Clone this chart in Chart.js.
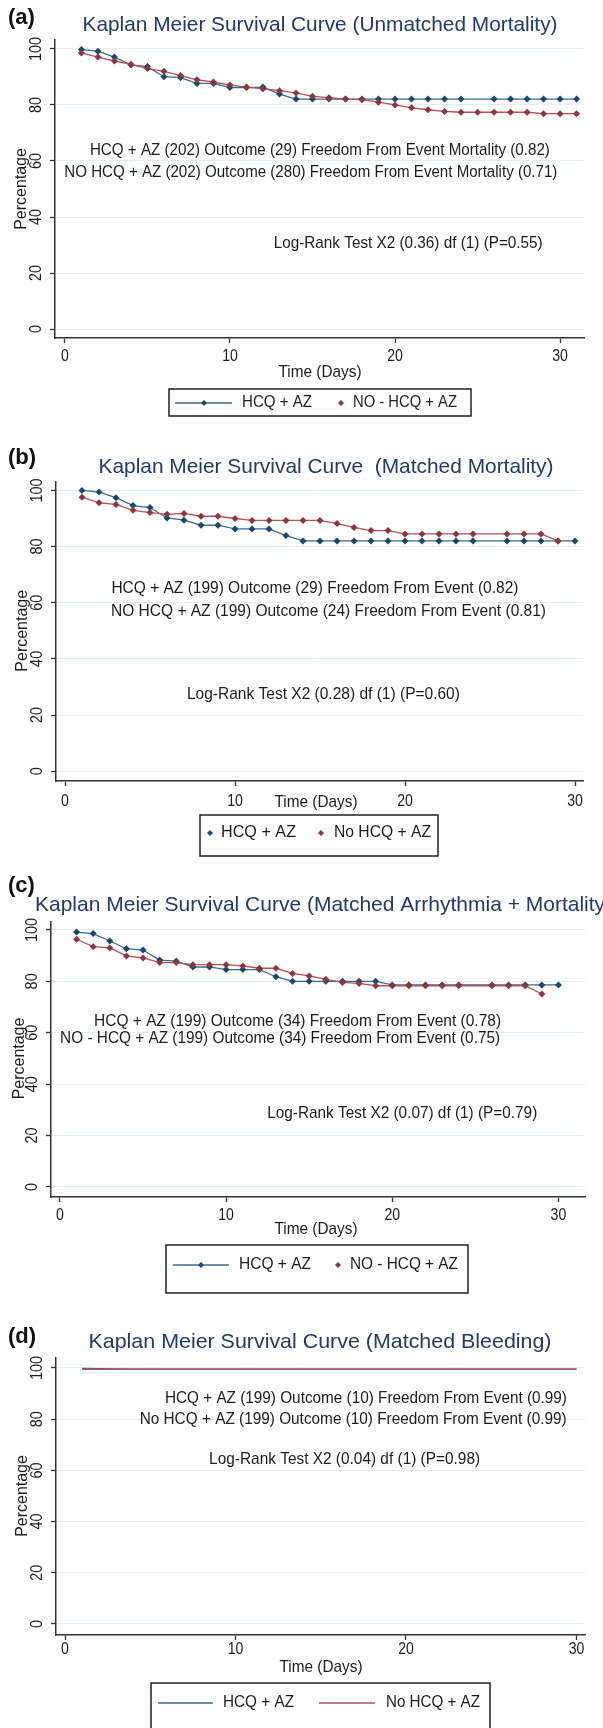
<!DOCTYPE html>
<html>
<head>
<meta charset="utf-8">
<script src="https://cdn.jsdelivr.net/npm/chart.js@4.4.1/dist/chart.umd.min.js"></script>
<style>
  body { margin: 0; background: #fff; }
  #pagina { position: relative; width: 603px; height: 1728px; overflow: hidden; }
  canvas { position: absolute; left: 0; }
</style>
</head>
<body>
<div id="pagina">
  <canvas id="graficoA" width="603" height="430" style="top:0px"></canvas>
  <canvas id="graficoB" width="603" height="440" style="top:430px"></canvas>
  <canvas id="graficoC" width="603" height="430" style="top:870px"></canvas>
  <canvas id="graficoD" width="603" height="428" style="top:1300px"></canvas>
</div>
<script>
// eixos comuns
const ticksX = [0, 10, 20, 30]
const ticksY = [0, 20, 40, 60, 80, 100]

// (a) mortalidade sem pareamento
const diasA = [1, 2, 3, 4, 5, 6, 7, 8, 9, 10, 11, 12, 13, 14, 15, 16, 17, 18, 19, 20, 21, 22, 23, 24, 25, 26, 27, 28, 29, 30, 31]
const hcqA = [99.8, 99.2, 97.1, 94.3, 93.7, 90.1, 89.8, 87.7, 87.7, 86.2, 86.2, 86.4, 83.9, 82.1, 82.1, 82.1, 82.1, 82.1, 82.1, 82.1, 82.1, 82.1, 82.1, 82.1, null, 82.1, 82.1, 82.1, 82.1, 82.1, 82.1]
const semHcqA = [98.6, 97.1, 95.7, 94.5, 93.0, 92.0, 90.5, 89.0, 88.2, 87.1, 86.4, 85.8, 85.1, 84.3, 83.1, 82.6, 82.1, 81.9, 81.0, 80.0, 79.0, 78.3, 77.7, 77.4, 77.4, 77.4, 77.4, 77.4, 76.9, 76.9, 76.9]

// (b) mortalidade pareada
const diasB = [1, 2, 3, 4, 5, 6, 7, 8, 9, 10, 11, 12, 13, 14, 15, 16, 17, 18, 19, 20, 21, 22, 23, 24, 25, 26, 27, 28, 29, 30]
const hcqB = [100, 99.4, 97.4, 94.6, 93.9, 90.2, 89.4, 87.6, 87.6, 86.3, 86.3, 86.3, 83.9, 82.0, 82.0, 82.0, 82.0, 82.0, 82.0, 82.0, 82.0, 82.0, 82.0, 82.0, null, 82.0, 82.0, 82.0, 82.0, 82.0]
const semHcqB = [97.6, 95.6, 95.0, 92.9, 92.1, 91.5, 91.8, 90.8, 90.8, 90.0, 89.3, 89.3, 89.3, 89.3, 89.3, 88.2, 86.8, 85.7, 85.7, 84.5, 84.5, 84.5, 84.5, 84.5, null, 84.5, 84.5, 84.5, 82.0, null]

// (c) arritmia + mortalidade pareada
const diasC = [1, 2, 3, 4, 5, 6, 7, 8, 9, 10, 11, 12, 13, 14, 15, 16, 17, 18, 19, 20, 21, 22, 23, 24, 25, 26, 27, 28, 29, 30]
const hcqC = [99.2, 98.6, 95.7, 92.7, 92.2, 88.3, 87.9, 85.6, 85.6, 84.6, 84.6, 84.6, 81.8, 80.0, 80.0, 80.0, 80.0, 80.0, 80.0, 78.6, 78.6, 78.6, 78.6, 78.6, null, 78.6, 78.6, 78.6, 78.6, 78.6]
const semHcqC = [96.4, 93.5, 93.0, 89.9, 89.1, 87.3, 87.3, 86.5, 86.5, 86.5, 86.0, 85.1, 85.1, 83.1, 82.1, 80.8, 79.6, 79.2, 78.3, 78.3, 78.3, 78.3, 78.3, 78.3, null, 78.3, 78.3, 78.3, 75.1, null]

// (d) sangramento pareado
const diasD = [1, 2, 3, 4, 5, 6, 7, 8, 9, 10, 11, 12, 13, 14, 15, 16, 17, 18, 19, 20, 21, 22, 23, 24, 25, 26, 27, 28, 29, 30]
const hcqD = [99.8, 99.7, 99.6, 99.5, 99.5, 99.5, 99.5, 99.5, 99.5, 99.5, 99.5, 99.5, 99.5, 99.5, 99.5, 99.5, 99.5, 99.5, 99.5, 99.5, 99.5, 99.5, 99.5, 99.5, 99.5, 99.5, 99.5, 99.5, 99.5, 99.5]
const semHcqD = [99.5, 99.5, 99.5, 99.5, 99.5, 99.5, 99.5, 99.5, 99.5, 99.5, 99.5, 99.5, 99.5, 99.5, 99.5, 99.5, 99.5, 99.5, 99.5, 99.5, 99.5, 99.5, 99.5, 99.5, 99.5, 99.5, 99.5, 99.5, 99.5, 99.5]

const titulos = [
  'Kaplan Meier Survival Curve (Unmatched Mortality)',
  'Kaplan Meier Survival Curve  (Matched Mortality)',
  'Kaplan Meier Survival Curve (Matched Arrhythmia + Mortality)',
  'Kaplan Meier Survival Curve (Matched Bleeding)'
]
const notasA = ['HCQ + AZ (202) Outcome (29) Freedom From Event Mortality (0.82)', 'NO HCQ + AZ (202) Outcome (280) Freedom From Event Mortality (0.71)', 'Log-Rank Test X2 (0.36) df (1) (P=0.55)']
const notasB = ['HCQ + AZ (199) Outcome (29) Freedom From Event (0.82)', 'NO HCQ + AZ (199) Outcome (24) Freedom From Event (0.81)', 'Log-Rank Test X2 (0.28) df (1) (P=0.60)']
const notasC = ['HCQ + AZ (199) Outcome (34) Freedom From Event (0.78)', 'NO - HCQ + AZ (199) Outcome (34) Freedom From Event (0.75)', 'Log-Rank Test X2 (0.07) df (1) (P=0.79)']
const notasD = ['HCQ + AZ (199) Outcome (10) Freedom From Event (0.99)', 'No HCQ + AZ (199) Outcome (10) Freedom From Event (0.99)', 'Log-Rank Test X2 (0.04) df (1) (P=0.98)']

const azul = '#1a476f'
const azulLinha = '#3f6891'
const vermelho = '#90353b'
const vermelhoLinha = '#a8555b'
const corTitulo = '#1f3a6b'
const corTexto = '#1c1c1c'
const fonte = '"Liberation Sans", Arial, sans-serif'


function escreve(ctx, str, x, y, tam, cor, alinha, largura, negrito) {
  ctx.save()
  ctx.font = (negrito ? 'bold ' : '') + tam + 'px ' + fonte
  ctx.fillStyle = cor
  ctx.textAlign = alinha
  ctx.textBaseline = 'middle'
  ctx.translate(x, y)
  if (largura) {
    const w = ctx.measureText(str).width
    ctx.scale(largura / w, 1)
  }
  ctx.fillText(str, 0, 0)
  ctx.restore()
}

function escreveVertical(ctx, str, x, y, tam, fator) {
  ctx.save()
  ctx.font = tam + 'px ' + fonte
  ctx.fillStyle = corTexto
  ctx.textAlign = 'center'
  ctx.textBaseline = 'middle'
  ctx.translate(x, y)
  ctx.rotate(-Math.PI / 2)
  ctx.scale(fator, 1)
  ctx.fillText(str, 0, 0)
  ctx.restore()
}

function losango(ctx, x, y, r, cor) {
  ctx.save()
  ctx.fillStyle = cor
  ctx.beginPath()
  ctx.moveTo(x, y - r)
  ctx.lineTo(x + r, y)
  ctx.lineTo(x, y + r)
  ctx.lineTo(x - r, y)
  ctx.closePath()
  ctx.fill()
  ctx.restore()
}

function desenhaTextos(chart, p) {
  const ctx = chart.ctx
  const sx = chart.scales.x
  const sy = chart.scales.y

  escreve(ctx, p.letra, 8, p.letraY, 22, '#111', 'left', 0, true)
  escreve(ctx, p.titulo, p.tituloX, p.tituloY, 21, corTitulo, p.tituloAlinha, p.tituloLargura)

  // textos do Stata ficam em coordenadas dos dados
  p.notas.forEach((n, i) => {
    const pos = p.posNotas[i]
    escreve(ctx, n, sx.getPixelForValue(pos[0]), sy.getPixelForValue(pos[1]), 17, corTexto, 'center', pos[2])
  })

  ticksY.forEach(v => escreveVertical(ctx, String(v), p.yTickX, sy.getPixelForValue(v), 16, 0.9))
  ticksX.forEach(v => {
    ctx.save()
    ctx.font = '16px ' + fonte
    const w = ctx.measureText(String(v)).width * 0.88
    ctx.restore()
    escreve(ctx, String(v), sx.getPixelForValue(v), p.xTickY, 16, corTexto, 'center', w)
  })
  escreveVertical(ctx, 'Percentage', p.yTituloX, sy.getPixelForValue(50), 17, 0.94)
  escreve(ctx, 'Time (Days)', p.xTitulo[0], p.xTitulo[1], 17, corTexto, 'center', 83)

  // legenda
  const L = p.legenda
  ctx.save()
  ctx.strokeStyle = '#222'
  ctx.lineWidth = 1.5
  ctx.strokeRect(L.caixa[0], L.caixa[1], L.caixa[2] - L.caixa[0], L.caixa[3] - L.caixa[1])
  ctx.restore()
  L.itens.forEach(it => {
    if (it.linha) {
      ctx.save()
      ctx.strokeStyle = it.corLinha
      ctx.lineWidth = 1.3
      ctx.beginPath()
      ctx.moveTo(it.linha[0], L.y)
      ctx.lineTo(it.linha[1], L.y)
      ctx.stroke()
      ctx.restore()
    }
    if (it.marca) losango(ctx, it.marca, L.y, 3, it.cor)
    escreve(ctx, it.texto, it.textoX, L.y, 16, corTexto, 'left', it.largura)
  })
}

function criaPainel(id, p) {
  const canvas = document.getElementById(id)
  const serie = (dias, valores) => dias.map((d, i) => ({ x: d, y: valores[i] }))
  return new Chart(canvas, {
    type: 'line',
    data: {
      datasets: [{
        label: 'HCQ + AZ',
        data: serie(p.dias, p.azul),
        borderColor: azulLinha,
        borderWidth: 1.3,
        pointStyle: 'rectRot',
        pointRadius: p.marcas ? 3.5 : 0,
        pointBackgroundColor: azul,
        pointBorderColor: azul,
        pointBorderWidth: 0,
        spanGaps: true,
        order: 1
      }, {
        label: p.nomeVermelho,
        data: serie(p.dias, p.vermelho),
        borderColor: vermelhoLinha,
        borderWidth: 1.3,
        pointStyle: 'rectRot',
        pointRadius: p.marcas ? 3.5 : 0,
        pointBackgroundColor: vermelho,
        pointBorderColor: vermelho,
        pointBorderWidth: 0,
        spanGaps: true,
        order: 0
      }]
    },
    options: {
      responsive: false,
      animation: false,
      layout: { padding: { left: 0, top: p.area[1], right: 603 - p.area[2], bottom: 0 } },
      plugins: { legend: { display: false }, tooltip: { enabled: false } },
      scales: {
        x: {
          type: 'linear',
          min: p.xMin,
          max: p.xMax,
          afterBuildTicks: s => { s.ticks = ticksX.map(v => ({ value: v })) },
          afterFit: s => { s.height = canvas.height - p.area[3] },
          ticks: { display: false },
          grid: { drawOnChartArea: false, tickColor: '#333', tickLength: 5, tickWidth: 1.3 },
          border: { color: '#333', width: 1.5 }
        },
        y: {
          min: p.yMin,
          max: p.yMax,
          afterBuildTicks: s => { s.ticks = ticksY.map(v => ({ value: v })) },
          afterFit: s => { s.width = p.area[0] },
          ticks: { display: false },
          grid: { color: '#e4eef1', lineWidth: 1, tickColor: '#333', tickLength: 5, tickWidth: 1.3 },
          border: { color: '#333', width: 1.5 }
        }
      }
    },
    plugins: [{ id: 'textos', afterDraw: c => desenhaTextos(c, p) }]
  })
}


criaPainel('graficoA', {
  dias: diasA, azul: hcqA, vermelho: semHcqA, nomeVermelho: 'NO - HCQ + AZ', marcas: true,
  xMin: -0.6, xMax: 31.45, yMin: -3.2, yMax: 103.2,
  area: [55, 40, 584, 338],
  letra: '(a)', letraY: 18,
  titulo: titulos[0], tituloX: 320, tituloY: 25, tituloAlinha: 'center', tituloLargura: 475,
  notas: notasA, posNotas: [[15.45, 63.9, 460], [14.9, 56.1, 493], [20.8, 30.7, 269]],
  yTickX: 37, yTituloX: 21, xTickY: 357, xTitulo: [320, 372],
  legenda: {
    caixa: [169, 389, 471, 416], y: 403,
    itens: [
      { linha: [175, 232], corLinha: azulLinha, marca: 204, cor: azul, texto: 'HCQ + AZ', textoX: 242, largura: 70 },
      { marca: 341, cor: vermelho, texto: 'NO - HCQ + AZ', textoX: 353, largura: 104 }
    ]
  }
})

criaPainel('graficoB', {
  dias: diasB, azul: hcqB, vermelho: semHcqB, nomeVermelho: 'No HCQ + AZ', marcas: true,
  xMin: -0.53, xMax: 30.47, yMin: -3.5, yMax: 103,
  area: [56, 52, 583, 351],
  letra: '(b)', letraY: 28,
  titulo: titulos[1], tituloX: 326, tituloY: 37, tituloAlinha: 'center', tituloLargura: 455,
  notas: notasB, posNotas: [[14.7, 65, 407], [15.5, 57.1, 435], [15.2, 27.5, 273]],
  yTickX: 38, yTituloX: 22, xTickY: 372, xTitulo: [316, 372],
  legenda: {
    caixa: [200, 385, 438, 426], y: 403,
    itens: [
      { marca: 210, cor: azul, texto: 'HCQ + AZ', textoX: 221, largura: 75 },
      { marca: 321, cor: vermelho, texto: 'No HCQ + AZ', textoX: 334, largura: 97 }
    ]
  }
})

criaPainel('graficoC', {
  dias: diasC, azul: hcqC, vermelho: semHcqC, nomeVermelho: 'NO - HCQ + AZ', marcas: true,
  xMin: -0.54, xMax: 31.6, yMin: -3.9, yMax: 103.1,
  area: [51, 52, 585, 327],
  letra: '(c)', letraY: 16,
  titulo: titulos[2], tituloX: 35, tituloY: 35, tituloAlinha: 'left', tituloLargura: 0,
  notas: notasC, posNotas: [[14.3, 64.6, 407], [13.25, 58.0, 440], [20.6, 28.8, 270]],
  yTickX: 33, yTituloX: 19, xTickY: 346, xTitulo: [316, 359],
  legenda: {
    caixa: [166, 375, 468, 423], y: 395,
    itens: [
      { linha: [173, 229], corLinha: azulLinha, marca: 201, cor: azul, texto: 'HCQ + AZ', textoX: 239, largura: 72 },
      { marca: 338, cor: vermelho, texto: 'NO - HCQ + AZ', textoX: 350, largura: 108 }
    ]
  }
})

criaPainel('graficoD', {
  dias: diasD, azul: hcqD, vermelho: semHcqD, nomeVermelho: 'No HCQ + AZ', marcas: false,
  xMin: -0.53, xMax: 30.5, yMin: -4.3, yMax: 103.9,
  area: [56, 58, 585, 335],
  letra: '(d)', letraY: 37,
  titulo: titulos[3], tituloX: 320, tituloY: 42, tituloAlinha: 'center', tituloLargura: 463,
  notas: notasD, posNotas: [[17.65, 88.3, 402], [16.9, 80.1, 427], [16.4, 64.5, 271]],
  yTickX: 38, yTituloX: 22, xTickY: 350, xTitulo: [321, 367],
  legenda: {
    caixa: [151, 383, 490, 440], y: 403,
    itens: [
      { linha: [158, 213], corLinha: azulLinha, texto: 'HCQ + AZ', textoX: 223, largura: 71 },
      { linha: [319, 375], corLinha: vermelhoLinha, texto: 'No HCQ + AZ', textoX: 386, largura: 94 }
    ]
  }
})
</script>
</body>
</html>
